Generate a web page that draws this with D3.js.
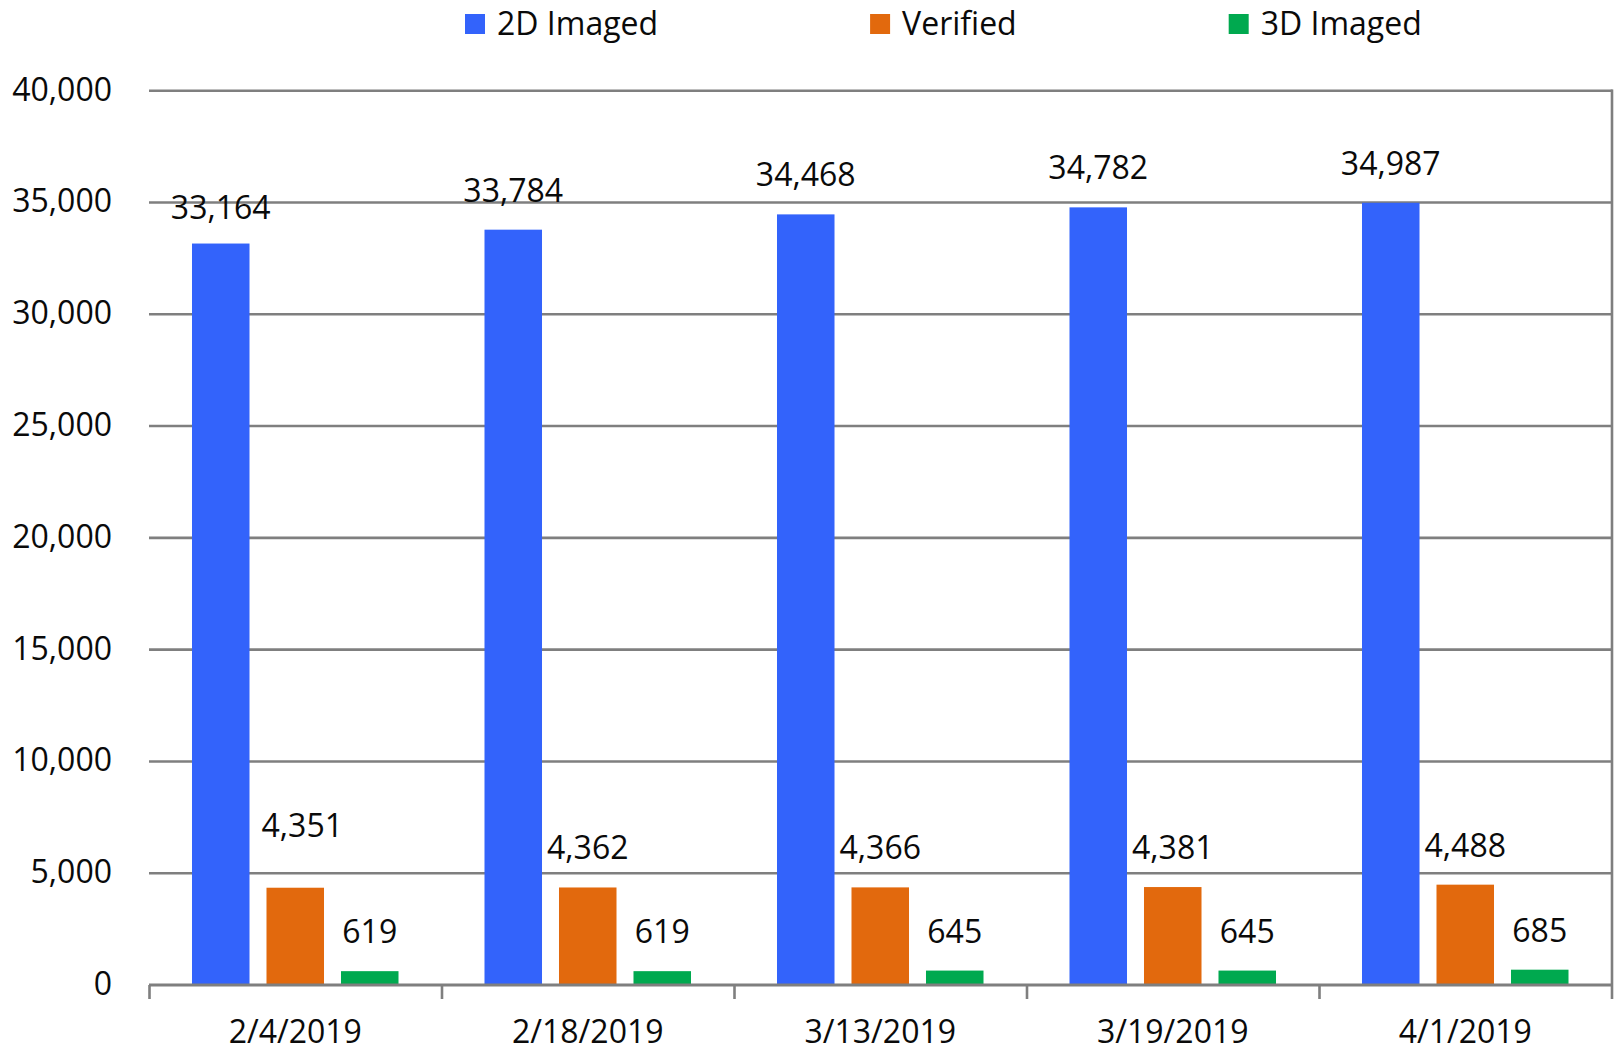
<!DOCTYPE html>
<html>
<head>
<meta charset="utf-8">
<script src="https://cdn.jsdelivr.net/npm/d3@7"></script>
<style>
  html, body { margin: 0; padding: 0; background: #fff; }
  svg { display: block; font-family: "Open Sans", sans-serif; }
</style>
</head>
<body>
<svg id="chart" width="1614" height="1053"></svg>
<script>
// Scan counts per reporting date
const categories = ["2/4/2019", "2/18/2019", "3/13/2019", "3/19/2019", "4/1/2019"];
const seriesNames = ["2D Imaged", "Verified", "3D Imaged"];
const imaged2D = [33164, 33784, 34468, 34782, 34987];
const verified = [4351, 4362, 4366, 4381, 4488];
const imaged3D = [619, 619, 645, 645, 685];
const yTicks = [0, 5000, 10000, 15000, 20000, 25000, 30000, 35000, 40000];

const colors = { "2D Imaged": "#3363fb", "Verified": "#e2690d", "3D Imaged": "#00a94f" };
const seriesValues = { "2D Imaged": imaged2D, "Verified": verified, "3D Imaged": imaged3D };

// Hand-placed label offsets (series, category index) -> [dx, dy]
const labelNudge = { "Verified|0": [7, -23], "2D Imaged|0": [0, 3] };

const svg = d3.select("#chart");
const plot = { left: 149, right: 1611.5, top: 90.7, bottom: 985 };
const fontSize = 32;
const gridColor = "#7f7f7f";
const textColor = "#0a0a0a";

const y = d3.scaleLinear().domain([0, 40000]).range([plot.bottom, plot.top]);
const x0 = d3.scaleBand().domain(categories).range([plot.left, plot.right]).padding(0);
const bw = x0.bandwidth();
const x1 = d3.scaleBand().domain(seriesNames)
  .range([bw * 0.147, bw * 0.853]).paddingInner(0.228).paddingOuter(0);

const fmt = d3.format(",");

// Horizontal gridlines
svg.append("g").selectAll("line")
  .data(yTicks.filter(d => d > 0))
  .join("line")
  .attr("x1", plot.left).attr("x2", plot.right + 1)
  .attr("y1", d => y(d)).attr("y2", d => y(d))
  .attr("stroke", gridColor).attr("stroke-width", 2.6);

// Right border of the plot area
svg.append("line")
  .attr("x1", plot.right + 0.5).attr("x2", plot.right + 0.5)
  .attr("y1", plot.top - 1.3).attr("y2", plot.bottom)
  .attr("stroke", gridColor).attr("stroke-width", 2.6);

// Y axis labels
const yAxis = d3.axisLeft(y).tickValues(yTicks).tickFormat(fmt).tickSize(0).tickPadding(0);
const yG = svg.append("g").attr("transform", `translate(112,0)`).call(yAxis);
yG.select(".domain").remove();
yG.selectAll("text")
  .attr("font-family", "Open Sans, sans-serif")
  .attr("font-size", fontSize)
  .attr("fill", textColor)
  .attr("dy", null)
  .attr("dominant-baseline", "central")
  .attr("y", -3);

// Bars
const groups = svg.append("g").selectAll("g")
  .data(categories)
  .join("g")
  .attr("transform", d => `translate(${x0(d)},0)`);

groups.selectAll("rect")
  .data((c, i) => seriesNames.map(s => ({ s, v: seriesValues[s][i] })))
  .join("rect")
  .attr("x", d => x1(d.s))
  .attr("width", x1.bandwidth())
  .attr("y", d => y(d.v))
  .attr("height", d => y(0) - y(d.v))
  .attr("fill", d => colors[d.s]);

// Value labels
groups.selectAll("text")
  .data((c, i) => seriesNames.map(s => ({ s, i, v: seriesValues[s][i] })))
  .join("text")
  .attr("x", d => x1(d.s) + x1.bandwidth() / 2 + (labelNudge[d.s + "|" + d.i] || [0, 0])[0])
  .attr("y", d => y(d.v) - 28 + (labelNudge[d.s + "|" + d.i] || [0, 0])[1])
  .attr("text-anchor", "middle")
  .attr("font-size", fontSize)
  .attr("fill", textColor)
  .text(d => fmt(d.v));

// X axis baseline, ticks and labels
const xAxis = d3.axisBottom(x0).tickSize(0).tickPadding(0);
const xG = svg.append("g").attr("transform", `translate(0,${plot.bottom})`).call(xAxis);
xG.select(".domain").remove();
xG.selectAll("text")
  .attr("font-family", "Open Sans, sans-serif")
  .attr("font-size", fontSize)
  .attr("fill", textColor)
  .attr("dy", null)
  .attr("y", 58);

svg.append("line")
  .attr("x1", plot.left).attr("x2", plot.right + 1.5)
  .attr("y1", plot.bottom).attr("y2", plot.bottom)
  .attr("stroke", gridColor).attr("stroke-width", 2.8);

const boundaries = categories.map(c => x0(c)).concat([plot.right]);
svg.append("g").selectAll("line")
  .data(boundaries)
  .join("line")
  .attr("x1", d => d + 0.5).attr("x2", d => d + 0.5)
  .attr("y1", plot.bottom).attr("y2", plot.bottom + 14)
  .attr("stroke", gridColor).attr("stroke-width", 2.6);

// Legend, entries laid out one after another
const legend = svg.append("g");
let lx = 465;
seriesNames.forEach(s => {
  legend.append("rect")
    .attr("x", lx).attr("y", 14).attr("width", 20).attr("height", 20)
    .attr("fill", colors[s]);
  const t = legend.append("text")
    .attr("x", lx + 32).attr("y", 35)
    .attr("font-size", fontSize)
    .attr("fill", textColor)
    .text(s);
  lx = lx + 32 + t.node().getComputedTextLength() + 212;
});
</script>
</body>
</html>
